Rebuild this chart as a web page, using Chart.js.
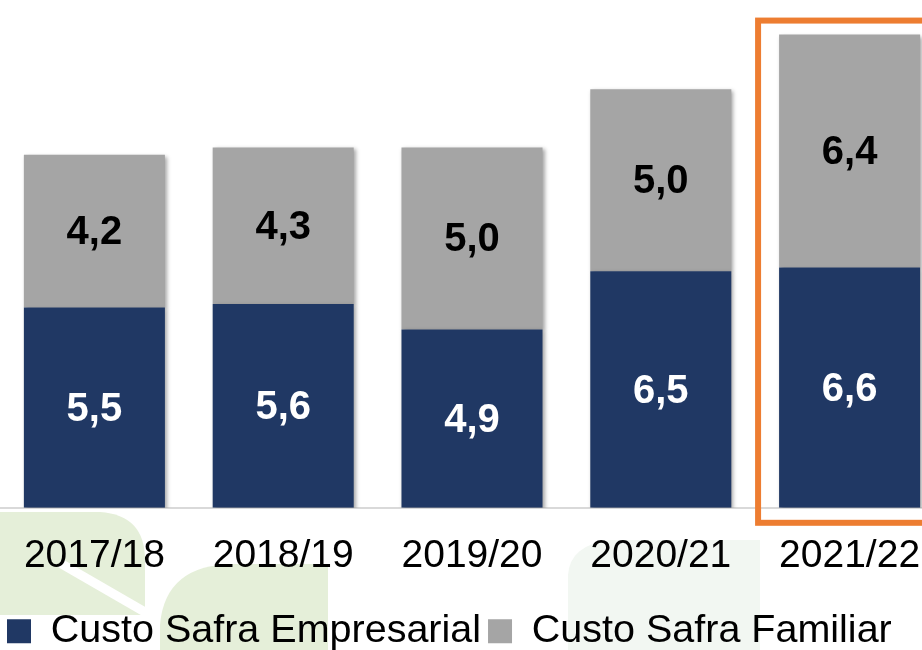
<!DOCTYPE html>
<html><head><meta charset="utf-8">
<script src="https://cdn.jsdelivr.net/npm/chart.js@4"></script>
<style>
html,body{margin:0;padding:0;overflow:hidden;background:#fff;width:922px;height:650px}
#wrap{position:absolute;left:0;top:0;width:944px;height:661px}
</style>
</head><body><div id="wrap"><canvas id="c"></canvas></div>
<script>
const categories = ['2017/18', '2018/19', '2019/20', '2020/21', '2021/22'];
const empresarial = [5.5, 5.6, 4.9, 6.5, 6.6];
const familiar = [4.2, 4.3, 5.0, 5.0, 6.4];
const seriesNames = ['Custo Safra Empresarial', 'Custo Safra Familiar'];
const highlightIndex = 4;

const FONT = "'Liberation Sans', Arial, sans-serif";

const bgPlugin = {
  id: 'bg',
  beforeDraw(chart) {
    const ctx = chart.ctx;
    ctx.save();
    ctx.fillStyle = '#ffffff';
    ctx.fillRect(0, 0, chart.width, chart.height);
    // faint watermark leaves
    ctx.fillStyle = '#e5efd9';
    ctx.beginPath();
    ctx.moveTo(0, 512);
    ctx.lineTo(100, 512);
    ctx.quadraticCurveTo(145, 515, 145, 560);
    ctx.lineTo(145, 615);
    ctx.lineTo(0, 615);
    ctx.closePath();
    ctx.fill();
    ctx.strokeStyle = '#ffffff';
    ctx.lineWidth = 9;
    ctx.beginPath();
    ctx.moveTo(60, 563);
    ctx.lineTo(150, 615);
    ctx.stroke();
    ctx.beginPath();
    ctx.moveTo(160, 650);
    ctx.lineTo(160, 625);
    ctx.quadraticCurveTo(165, 564, 235, 564);
    ctx.lineTo(328, 564);
    ctx.lineTo(328, 650);
    ctx.closePath();
    ctx.fill();
    ctx.fillStyle = '#f2f7f2';
    ctx.beginPath();
    ctx.moveTo(568, 650);
    ctx.lineTo(568, 575);
    ctx.quadraticCurveTo(570, 545, 610, 540);
    ctx.lineTo(760, 540);
    ctx.lineTo(760, 650);
    ctx.closePath();
    ctx.fill();
    ctx.restore();
  }
};

const shadowPlugin = {
  id: 'shadow',
  beforeDatasetsDraw(chart) {
    const ctx = chart.ctx;
    ctx.save();
    ctx.shadowColor = 'rgba(0,0,0,0.35)';
    ctx.shadowBlur = 4;
    ctx.shadowOffsetX = 2;
    ctx.shadowOffsetY = 2;
  },
  afterDatasetsDraw(chart) {
    chart.ctx.restore();
  }
};

const overlayPlugin = {
  id: 'overlay',
  afterDatasetsDraw(chart) {
    const ctx = chart.ctx;
    const bottomBar = chart.getDatasetMeta(0).data[highlightIndex];
    const topBar = chart.getDatasetMeta(1).data[highlightIndex];
    if (bottomBar && topBar) {
      const base = chart.scales.y.getPixelForValue(0);
      const left = bottomBar.x - bottomBar.width / 2 - 21;
      const right = bottomBar.x + bottomBar.width / 2 + 21;
      const top = topBar.y - 14;
      const bottom = base + 15;
      ctx.save();
      ctx.strokeStyle = '#ED7D31';
      ctx.lineWidth = 6;
      ctx.strokeRect(left, top, right - left, bottom - top);
      ctx.restore();
    }
    ctx.save();
    ctx.font = 'bold 40px ' + FONT;
    ctx.textAlign = 'center';
    ctx.textBaseline = 'middle';
    chart.data.datasets.forEach((ds, di) => {
      const meta = chart.getDatasetMeta(di);
      meta.data.forEach((bar, i) => {
        const v = ds.data[i];
        ctx.fillStyle = di === 0 ? '#ffffff' : '#000000';
        ctx.fillText(v.toFixed(1).replace('.', ','), bar.x, (bar.y + bar.base) / 2 + 2);
      });
    });
    ctx.restore();
  }
};

new Chart(document.getElementById('c'), {
  type: 'bar',
  data: {
    labels: categories,
    datasets: [
      { label: seriesNames[0], data: empresarial, backgroundColor: '#203864', borderWidth: 0 },
      { label: seriesNames[1], data: familiar, backgroundColor: '#A5A5A5', borderWidth: 0 }
    ]
  },
  options: {
    responsive: true,
    maintainAspectRatio: false,
    animation: false,
    datasets: { bar: { categoryPercentage: 1.0, barPercentage: 0.747 } },
    layout: { padding: 0 },
    plugins: {
      tooltip: { enabled: false },
      legend: {
        position: 'bottom',
        align: 'start',
        labels: {
          boxWidth: 24,
          boxHeight: 24,
          padding: 7,
          color: '#000000',
          font: { size: 39.5, family: FONT }
        }
      }
    },
    scales: {
      x: {
        stacked: true,
        grid: { display: false, drawTicks: false },
        border: { display: true, color: '#d9d9d9', width: 2 },
        ticks: { color: '#000000', padding: 23, font: { size: 39, family: FONT, lineHeight: 1.3 } }
      },
      y: {
        stacked: true,
        display: false,
        min: 0,
        max: 13.95
      }
    }
  },
  plugins: [bgPlugin, shadowPlugin, overlayPlugin]
});
</script>
</body></html>
